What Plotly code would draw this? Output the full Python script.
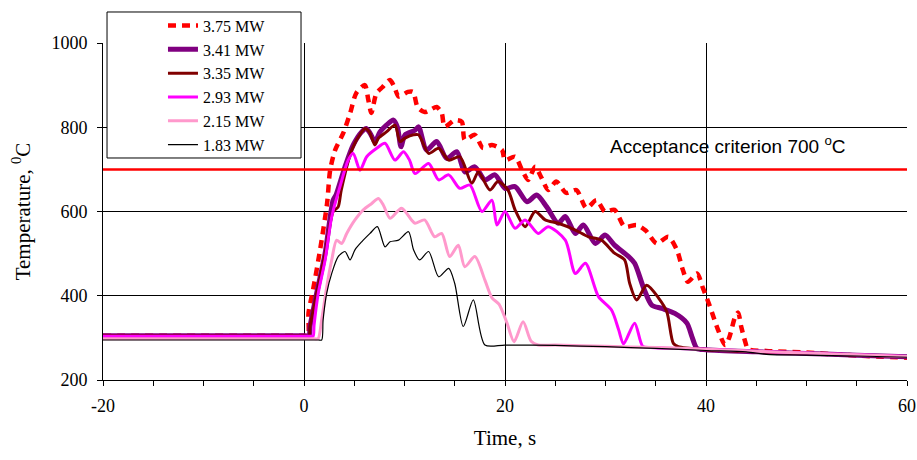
import plotly.graph_objects as go

# ---------------- data ----------------
t_375 = [-20, 0.0, 0.4, 0.45, 0.9, 1.6, 2.3, 2.6, 3.1, 3.9, 4.6, 5.2, 6.05, 6.4, 6.7, 7.2, 7.8, 8.55, 9.0, 9.4, 9.9,
         10.35, 10.85, 11.3, 12.0, 12.6, 13.2, 13.7, 14.0, 15.0, 15.7, 16.0, 17.0, 17.8, 18.7, 19.7, 20.0,
         21.0, 21.7, 22.3, 23.0, 23.65, 24.3, 25.1, 26.1, 27.1, 28.1, 29.1, 29.95, 30.9, 31.9, 33.1, 34.0,
         35.1, 36.25, 37.1, 37.7, 38.2, 39.1, 39.7, 40.4, 41.2, 41.9, 42.3, 42.9, 43.2, 43.5, 43.9, 44.2,
         46, 50, 55, 60]
T_375 = [305, 305, 305, 359, 414, 509, 620, 698, 746, 786, 834, 881, 900, 865, 834, 880, 895, 912, 895, 873, 878,
         884, 884, 848, 836, 842, 848, 834, 801, 817, 813, 770, 782, 751, 758, 746, 722,
         730, 698, 675, 706, 679, 651, 671, 644, 651, 608, 627, 600, 604, 564, 568, 555,
         524, 540, 509, 461, 433, 453, 418, 374, 319, 283, 300, 350, 360, 327, 291, 273,
         269, 265, 258, 253]

t_341 = [-20, 0.0, 0.5, 0.6, 1.26, 2.1, 2.9, 3.2, 4.08, 4.9, 5.74, 6.2, 6.6, 7.06, 7.56, 8.2, 8.9, 9.3, 9.65,
         10.05, 11.05, 11.4, 12.2, 13.2, 14.2, 15.2, 16.0, 17.0, 18.0, 19.0, 20.0, 21.0, 22.2, 23.15,
         24.15, 25.3, 26.0, 27.0, 27.8, 29.0, 29.95, 30.9, 32.3, 32.9, 33.8, 34.6, 35.6, 36.9, 38.1,
         38.6, 39.1, 40, 45, 50, 55, 60]
T_341 = [305, 305, 305, 327, 406, 501, 627, 640, 706, 758, 789, 797, 785, 766, 789, 805, 817, 800, 754,
         782, 793, 801, 746, 766, 726, 742, 694, 706, 675, 687, 655, 659, 623, 639,
         611, 572, 588, 548, 568, 524, 544, 520, 493, 477, 418, 378, 370, 358, 335,
         303, 275, 272, 267, 263, 259, 255]

t_335 = [-20, 0.0, 0.5, 0.6, 1.26, 2.1, 2.9, 3.4, 3.7, 4.75, 5.74, 6.07, 6.5, 7.06, 7.4, 8.2, 9.05, 9.55, 10.05,
         10.9, 11.4, 12.4, 13.4, 14.4, 15.5, 16.7, 17.35, 18.5, 19.3, 20.3, 21.0, 22.0, 23.0, 24.0,
         25.3, 27.0, 28.3, 29.6, 30.9, 31.9, 32.4, 33.1, 34.1, 35.3, 36.1, 36.75, 37.25, 40, 45, 50, 55, 60]
T_335 = [305, 305, 305, 327, 406, 501, 600, 611, 650, 746, 789, 797, 789, 758, 774, 789, 805, 766, 774,
         782, 782, 738, 750, 722, 730, 667, 694, 651, 671, 651, 604, 564, 600, 580,
         572, 556, 540, 532, 501, 485, 430, 390, 425, 394, 362, 287, 279, 272, 267, 263, 259, 255]

t_293 = [-20, 0.5, 0.9, 1.0, 1.42, 2.1, 2.76, 3.58, 4.4, 4.9, 5.57, 6.24, 7.23, 8.06, 9.05, 9.9, 10.5, 11.05,
         12.4, 13.4, 14.4, 15.5, 16.5, 17.7, 18.7, 19.2, 20.0, 21.0, 22.0, 23.3, 24.3, 26.0, 27.0,
         28.0, 29.3, 30.6, 31.3, 31.8, 32.9, 33.7, 34.5, 40, 45, 50, 55, 60]
T_293 = [304, 304, 304, 330, 406, 485, 588, 659, 722, 738, 698, 730, 750, 762, 722, 742, 722, 690,
         714, 675, 687, 655, 663, 600, 627, 568, 600, 560, 580, 548, 564, 532, 453,
         477, 398, 366, 320, 286, 335, 280, 277, 273, 268, 264, 260, 256]

t_215 = [-20, 1.0, 1.4, 1.75, 2.26, 2.76, 3.25, 3.75, 4.25, 5.07, 5.9, 6.74, 7.4, 7.9, 8.56, 9.7, 10.7, 11.05,
         12.0, 13.0, 13.7, 14.5, 15.35, 16.0, 17.0, 18.0, 18.7, 19.4, 20.2, 20.9, 21.8, 22.6, 23.3,
         25, 30, 35, 40, 45, 50, 55, 60]
T_215 = [298, 298, 298, 342, 421, 485, 532, 524, 548, 580, 604, 619, 631, 615, 584, 608, 580, 572,
         580, 540, 548, 493, 520, 469, 493, 437, 395, 380, 335, 291, 338, 292, 283,
         283, 280, 277, 273, 268, 264, 260, 256]

t_183 = [-20, 1.4, 1.76, 1.9, 2.26, 2.76, 3.4, 4.08, 4.58, 5.07, 5.74, 6.57, 7.3, 8.06, 8.56, 9.4, 10.4,
         10.9, 11.5, 12.4, 13.4, 14.4, 15.0, 15.85, 16.85, 18.0, 20, 25, 30, 35, 40, 44, 46, 50, 55, 60]
T_183 = [295, 295, 295, 342, 406, 453, 493, 505, 485, 509, 528, 548, 564, 516, 528, 532, 552,
         509, 485, 505, 445, 465, 429, 327, 390, 283, 283, 282, 279, 275, 270, 267, 261, 259, 257, 254]

criterion_t = [-20, 60]
criterion_T = [700, 700]

x_tickvals = [-20, 0, 20, 40, 60]
x_ticktext = ["-20", "0", "20", "40", "60"]

series = [
    ("3.75 MW", t_375, T_375, "#FF0000", 4.5, "8px,6px"),
    ("3.41 MW", t_341, T_341, "#800080", 5, "solid"),
    ("3.35 MW", t_335, T_335, "#800000", 3, "solid"),
    ("2.93 MW", t_293, T_293, "#FF00FF", 3, "solid"),
    ("2.15 MW", t_215, T_215, "#FF99CC", 3, "solid"),
    ("1.83 MW", t_183, T_183, "#000000", 1.2, "solid"),
]

fig = go.Figure()
for name, xs, ys, col, w, dash in series:
    fig.add_trace(go.Scatter(x=xs, y=ys, mode="lines", name=name,
                             line=dict(color=col, width=w, dash=dash, shape="spline", smoothing=0.75)))

fig.add_trace(go.Scatter(x=criterion_t, y=criterion_T, mode="lines", showlegend=False,
                         line=dict(color="#FF0000", width=2.5)))

fig.add_annotation(x=42.2, y=758, xref="x", yref="y",
                   text="Acceptance criterion 700 <sup>o</sup>C", showarrow=False,
                   font=dict(family="Liberation Sans", size=19, color="black"))

# legend frame (legend itself is drawn by plotly on top of it)
fig.add_shape(type="rect", xref="paper", yref="paper",
              x0=0.005, x1=0.2463, y0=0.6588, y1=1.092,
              line=dict(color="black", width=1), fillcolor="white", layer="above")

serif = "Liberation Serif"
fig.update_layout(
    width=917, height=460,
    margin=dict(l=103, r=10, t=43, b=80, autoexpand=False),
    paper_bgcolor="white", plot_bgcolor="white",
    font=dict(family=serif, size=18, color="black"),
    showlegend=True,
    legend=dict(x=0.0746, y=1.102, xanchor="left", yanchor="top",
                borderwidth=0, bgcolor="rgba(0,0,0,0)",
                font=dict(family=serif, size=16), itemwidth=30, tracegroupgap=0),
    xaxis=dict(range=[-20, 60], tickmode="array", tickvals=x_tickvals, ticktext=x_ticktext,
               showgrid=True, gridcolor="black", gridwidth=1, automargin=False,
               zeroline=False, showline=True, linecolor="black", linewidth=1,
               ticks="outside", ticklen=5, tickcolor="black", ticklabelstandoff=4,
               minor=dict(tickmode="linear", tick0=0, dtick=5, ticks="outside", ticklen=5,
                          tickcolor="black", showgrid=False),
               title=dict(text="Time, s", font=dict(family=serif, size=21))),
    yaxis=dict(range=[200, 1000], dtick=200, showgrid=True, gridcolor="black", gridwidth=1,
               automargin=False,
               zeroline=False, showline=True, linecolor="black", linewidth=1,
               ticks="outside", ticklen=5, tickcolor="black", ticklabelstandoff=6,
               title=dict(text="Temperature, <sup>0</sup>C", font=dict(family=serif, size=21))),
)

fig.write_html("out.html", config={"displayModeBar": False},
               post_script="document.body.style.margin='0px';")
